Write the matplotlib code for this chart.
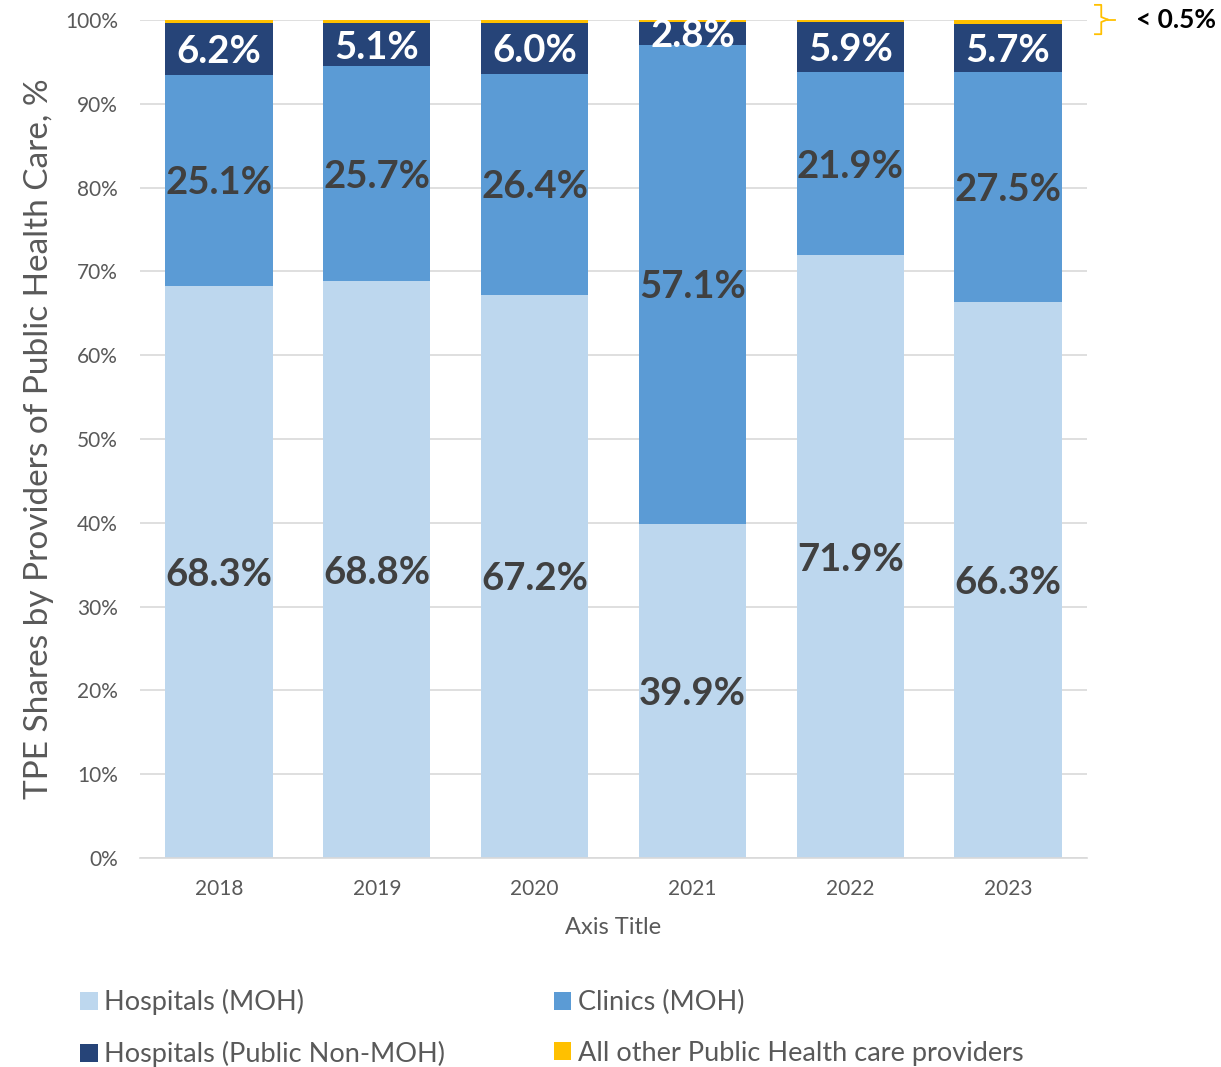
import matplotlib.pyplot as plt
import numpy as np

plt.rcParams['font.family'] = ['Lato', 'DejaVu Sans']

years = ['2018', '2019', '2020', '2021', '2022', '2023']
hosp_moh = [68.3, 68.8, 67.2, 39.9, 71.9, 66.3]
clinics_moh = [25.1, 25.7, 26.4, 57.1, 21.9, 27.5]
hosp_non_moh = [6.2, 5.1, 6.0, 2.8, 5.9, 5.7]
other = [0.4, 0.4, 0.4, 0.2, 0.3, 0.5]

series = [
    ('Hospitals (MOH)', hosp_moh, '#BDD7EE', '#404040'),
    ('Clinics (MOH)', clinics_moh, '#5B9BD5', '#404040'),
    ('Hospitals (Public Non-MOH)', hosp_non_moh, '#264478', 'white'),
    ('All other Public Health care providers', other, '#FFC000', None),
]

fig = plt.figure(figsize=(12.21, 10.67), dpi=100)
ax = fig.add_axes([0.1147, 0.1959, 0.7756, 0.7854])

x = np.arange(len(years))
bottom = np.zeros(len(years))
handles = {}
for name, vals, color, txt in series:
    vals = np.array(vals)
    bars = ax.bar(x, vals, width=0.68, bottom=bottom, color=color, zorder=2)
    handles[name] = bars
    if txt:
        for xi, b, v in zip(x, bottom, vals):
            ax.text(xi, b + v / 2, f'{v:.1f}%', ha='center', va='center_baseline',
                    fontsize=27.5, fontweight='bold', color=txt, zorder=3)
    bottom += vals

ax.set_ylim(0, 100)
ax.set_xlim(-0.5, len(years) - 0.5)
ax.set_yticks(np.arange(0, 101, 10))
ax.set_yticklabels([f'{t}%' for t in range(0, 101, 10)])
ax.set_xticks(x)
ax.set_xticklabels(years)
ax.tick_params(axis='both', length=0, labelsize=15, labelcolor='#595959')
ax.tick_params(axis='x', pad=15)
ax.tick_params(axis='y', pad=16)
ax.grid(axis='y', color='#D9D9D9', linewidth=1.2, zorder=0)
for side in ['top', 'right', 'left']:
    ax.spines[side].set_visible(False)
ax.spines['bottom'].set_color('#D9D9D9')
ax.spines['bottom'].set_linewidth(1.2)

ax.set_xlabel('Axis Title', fontsize=17, color='#595959', labelpad=13)
ax.set_ylabel('TPE Shares by Providers of Public Health Care, %',
              fontsize=24, color='#595959', labelpad=8)

# brace pointing at the thin yellow slices
bx = len(years) - 0.5 + 0.05
by0, by1 = 98.3, 101.8
bym = (by0 + by1) / 2
ax.plot([bx, bx + 0.04, bx + 0.04, bx + 0.08], [by1, by1, bym + 0.3, bym],
        color='#FFC000', lw=1.3, clip_on=False)
ax.plot([bx, bx + 0.04, bx + 0.04, bx + 0.08], [by0, by0, bym - 0.3, bym],
        color='#FFC000', lw=1.3, clip_on=False)
ax.plot([bx + 0.08, bx + 0.13], [bym, bym], color='#FFC000', lw=1.3,
        clip_on=False)
ax.text(bx + 0.26, bym, '< 0.5%', ha='left', va='center', fontsize=19,
        fontweight='bold', color='black', clip_on=False)

order = ['Hospitals (MOH)', 'Hospitals (Public Non-MOH)', 'Clinics (MOH)',
         'All other Public Health care providers']
fig.legend([handles[n] for n in order], order, ncol=2, loc='upper left',
           bbox_to_anchor=(0.0655, 0.073), frameon=False, fontsize=19.5,
           labelcolor='#595959', handlelength=0.65, handleheight=0.65,
           handletextpad=0.25, columnspacing=4.0, labelspacing=0.95,
           borderpad=0, borderaxespad=0)

fig.savefig('out.png', dpi=100)
